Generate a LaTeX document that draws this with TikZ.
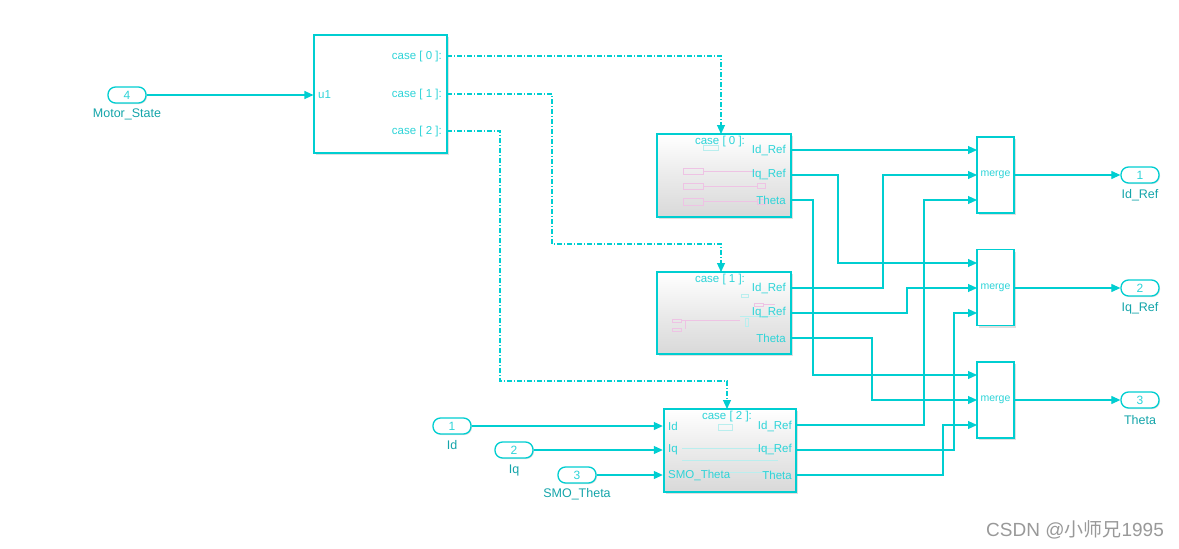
\documentclass[tikz,border=0pt]{standalone}
\usepackage{fontspec}
\setmainfont{Liberation Sans}
\newfontfamily\cjk{Noto Sans CJK SC}
\usetikzlibrary{arrows.meta,shadows,calc}
\definecolor{sl}{RGB}{0,206,209}
\definecolor{sltext}{RGB}{20,165,170}
\definecolor{slin}{RGB}{45,212,216}
\definecolor{faintpink}{RGB}{238,195,228}
\definecolor{faintcyan}{RGB}{185,238,238}
\tikzset{
  wire/.style={draw=sl, line width=1.1pt, -{Triangle[length=9pt,width=8pt]}},
  trig/.style={wire, dash pattern=on 5pt off 2pt on 1pt off 2pt},
  port/.style={draw=sl, line width=1.3pt, rounded corners=7.5pt, minimum width=38pt, minimum height=16pt, inner sep=0pt, fill=white,
    text=slin, font=\fontsize{12}{12}\selectfont, drop shadow={shadow xshift=1pt, shadow yshift=-1pt, opacity=0.25}},
  lbl/.style={text=sltext, font=\fontsize{12.5}{13}\selectfont, inner sep=0pt},
  plbl/.style={text=slin, font=\fontsize{11.5}{12}\selectfont, inner sep=0pt},
  swblk/.style={draw=sl, line width=1.1pt, fill=white, inner sep=0pt, drop shadow={shadow xshift=2pt, shadow yshift=-2pt, opacity=0.25}},
  subblk/.style={draw=sl, line width=2.4pt, top color=white, bottom color=black!15, middle color=white!92!black, inner sep=0pt,
    drop shadow={shadow xshift=2pt, shadow yshift=-2pt, opacity=0.25}},
  mrgblk/.style={draw=sl, line width=1.3pt, fill=white, inner sep=0pt, minimum width=37pt, minimum height=76pt,
    text=slin, font=\fontsize{10.5}{10.5}\selectfont, drop shadow={shadow xshift=2pt, shadow yshift=-2pt, opacity=0.25}},
  faint/.style={draw=faintpink, line width=0.9pt},
  faintc/.style={draw=faintcyan, line width=0.9pt}
}
\begin{document}
\begin{tikzpicture}[x=1pt,y=-1pt]
\useasboundingbox[fill=white] (0,0) rectangle (1179,549);

% ---------- blocks ----------
\node[port] (in4) at (127,95) {4};
\node[lbl] (in4l) at (127,114) {Motor\_State};

\node[swblk, minimum width=133pt, minimum height=118pt] (sw) at (380.5,94) {};
\node[plbl, anchor=west] (swu1) at (318,95) {u1};
\node[plbl, anchor=east] (swc0) at (442,57) {case [ 0 ]:};
\node[plbl, anchor=east] (swc1) at (442,95) {case [ 1 ]:};
\node[plbl, anchor=east] (swc2) at (442,132) {case [ 2 ]:};

\node[subblk, minimum width=134pt, minimum height=83pt] (s1) at (724,175.5) {};
\node[subblk, minimum width=134pt, minimum height=82pt] (s2) at (724,313) {};
\node[subblk, minimum width=132pt, minimum height=83pt] (s3) at (730,450.5) {};

% faint internal icons
\draw[faint] (683,168) rectangle (703,174) (683,183) rectangle (703,189) (683,198) rectangle (703,205);
\draw[faint] (703,171) -- (757,171) (703,186) -- (757,186) (703,201.5) -- (757,201.5);
\draw[faint] (757,183.5) rectangle (765,188.5) (757,199) rectangle (765,204);
\draw[faintc] (703,145) rectangle (718,150);
\draw[faintc] (741,294) rectangle (748,297);
\draw[faint] (754,303) rectangle (763,306) (763,304.5) -- (775,304.5);
\draw[faint] (672,319) rectangle (681,322) (672,328) rectangle (681,331) (681,320.5) -- (740,320.5) (685,320.5) -- (685,329);
\draw[faintc] (740,316) -- (778,316) (745,318) rectangle (748,326);
\draw[faintc] (718,424) rectangle (732,430);
\draw[faintc] (682,448) -- (778,448) (682,460) -- (778,460) (730,472) -- (778,472);

\node[plbl] (s1c) at (720,142) {case [ 0 ]:};
\node[plbl, anchor=east] (s1o1l) at (786,150) {Id\_Ref};
\node[plbl, anchor=east] (s1o2l) at (786,175) {Iq\_Ref};
\node[plbl, anchor=east] (s1o3l) at (786,200) {Theta};

\node[plbl] (s2c) at (720,280) {case [ 1 ]:};
\node[plbl, anchor=east] (s2o1l) at (786,288) {Id\_Ref};
\node[plbl, anchor=east] (s2o2l) at (786,313) {Iq\_Ref};
\node[plbl, anchor=east] (s2o3l) at (786,338) {Theta};

\node[plbl] (s3c) at (727,417) {case [ 2 ]:};
\node[plbl, anchor=west] (s3i1l) at (668,426) {Id};
\node[plbl, anchor=west] (s3i2l) at (668,450) {Iq};
\node[plbl, anchor=west] (s3i3l) at (668,475) {SMO\_Theta};
\node[plbl, anchor=east] (s3o1l) at (792,426) {Id\_Ref};
\node[plbl, anchor=east] (s3o2l) at (792,450) {Iq\_Ref};
\node[plbl, anchor=east] (s3o3l) at (792,475) {Theta};

\node[mrgblk] (m1) at (995.5,175) {merge};
\node[mrgblk] (m2) at (995.5,287.5) {merge};
\node[mrgblk] (m3) at (995.5,400) {merge};

\node[port] (out1) at (1140,175) {1};
\node[lbl] (out1l) at (1140,195) {Id\_Ref};
\node[port] (out2) at (1140,288) {2};
\node[lbl] (out2l) at (1140,308) {Iq\_Ref};
\node[port] (out3) at (1140,400) {3};
\node[lbl] (out3l) at (1140,420) {Theta};

\node[port] (in1) at (452,426) {1};
\node[lbl] (in1l) at (452,445) {Id};
\node[port] (in2) at (514,450) {2};
\node[lbl] (in2l) at (514,470) {Iq};
\node[port] (in3) at (577,475) {3};
\node[lbl] (in3l) at (577,494) {SMO\_Theta};

\node[text=black!40, font=\fontsize{19}{19}\selectfont, inner sep=0pt] (wm) at (1075,530) {CSDN @{\cjk 小师兄}1995};

% ---------- port coordinates ----------
\coordinate (sw0) at (447,56);
\coordinate (sw1) at (447,94);
\coordinate (sw2) at (447,131);
\coordinate (t1) at (721,134);
\coordinate (t2) at (721,272);
\coordinate (t3) at (727,409);

\coordinate (s1o1) at (791,150);
\coordinate (s1o2) at (791,175);
\coordinate (s1o3) at (791,200);
\coordinate (s2o1) at (791,288);
\coordinate (s2o2) at (791,313);
\coordinate (s2o3) at (791,338);
\coordinate (s3o1) at (796,425);
\coordinate (s3o2) at (796,450);
\coordinate (s3o3) at (796,475);

\coordinate (m1i1) at (977,150);
\coordinate (m1i2) at (977,175);
\coordinate (m1i3) at (977,200);
\coordinate (m2i1) at (977,263);
\coordinate (m2i2) at (977,288);
\coordinate (m2i3) at (977,313);
\coordinate (m3i1) at (977,375);
\coordinate (m3i2) at (977,400);
\coordinate (m3i3) at (977,425);

% ---------- connectors ----------
\draw[wire] (in4.east) -- (sw.west |- in4.east);

\draw[trig] (sw0) -| (t1);
\draw[trig] (sw1) -| (552,244) -| (t2);
\draw[trig] (sw2) -| (500,381) -| (t3);

\draw[wire] (in1.east) -- (s3.west |- in1.east);
\draw[wire] (in2.east) -- (s3.west |- in2.east);
\draw[wire] (in3.east) -- (s3.west |- in3.east);

\draw[wire] (s1o1) -- (m1i1);
\draw[wire] (s1o2) -| (838,263) -- (m2i1);
\draw[wire] (s1o3) -| (813,375) -- (m3i1);
\draw[wire] (s2o1) -| (883,175) -- (m1i2);
\draw[wire] (s2o2) -| (907,288) -- (m2i2);
\draw[wire] (s2o3) -| (872,400) -- (m3i2);
\draw[wire] (s3o1) -| (924,200) -- (m1i3);
\draw[wire] (s3o2) -| (954,313) -- (m2i3);
\draw[wire] (s3o3) -| (943,425) -- (m3i3);

\draw[wire] (m1.east) -- (out1.west);
\draw[wire] (m2.east |- out2.west) -- (out2.west);
\draw[wire] (m3.east) -- (out3.west);
\end{tikzpicture}
\end{document}
